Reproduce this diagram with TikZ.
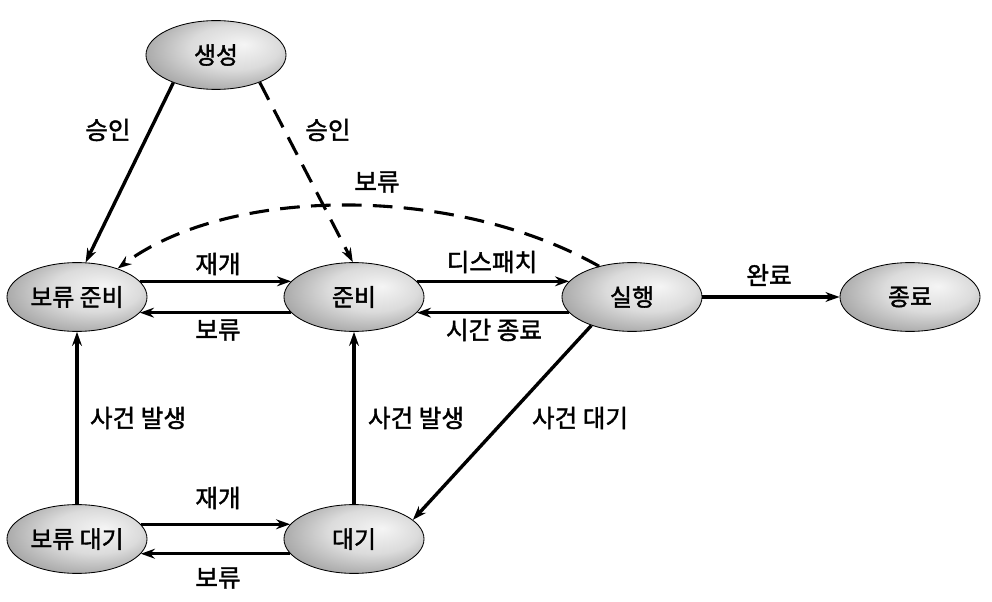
\documentclass[tikz,border=0pt]{standalone}
\usepackage{fontspec}
\setmainfont{Noto Sans CJK KR}[FakeBold=1.5]
\usetikzlibrary{shapes.geometric,arrows.meta}
\pgfdeclareradialshading{ellshade}{\pgfpoint{10bp}{8bp}}{color(0bp)=(black!4); color(16bp)=(black!14); color(34bp)=(black!40); color(50bp)=(black!50)}
\begin{document}
\begin{tikzpicture}[x=0.025cm,y=-0.025cm,
  st/.style={ellipse, draw=black, line width=0.6pt, shade, shading=ellshade,
    minimum width=3.5cm, minimum height=1.72cm, inner sep=0pt,
    font=\fontsize{17}{19}\selectfont},
  lab/.style={font=\fontsize{17.5}{19}\selectfont, inner sep=1pt},
  arr/.style={line width=2.4pt, -{Stealth[length=10pt,width=7pt]}},
  darr/.style={arr, line width=2.2pt, dash pattern=on 14pt off 8pt}]
\fill[white] (0,0) rectangle (992,602);
\useasboundingbox (0,0) rectangle (992,602);

\node[st] (gen) at (216,55) {생성};
\node[st] (hr) at (77,297) {보류 준비};
\node[st] (rd) at (354,297) {준비};
\node[st] (run) at (632,297) {실행};
\node[st] (end) at (910,297) {종료};
\node[st] (hw) at (77,539) {보류 대기};
\node[st] (wt) at (354,539) {대기};

\draw[arr] (gen.213) -- (hr.76);
\draw[darr] (gen.328) -- (rd.92);
\draw[darr] (run.137) .. controls (456,185) and (230,185) .. (hr.35);
\draw[arr] (hr.14) -- (rd.166);
\draw[arr] (rd.194) -- (hr.-14);
\draw[arr] (rd.14) -- (run.166);
\draw[arr] (run.194) -- (rd.-14);
\draw[arr] (run) -- (end);
\draw[arr] (run.215) -- (wt.18);
\draw[arr] (wt) -- (rd);
\draw[arr] (hw) -- (hr);
\draw[arr] (hw.13) -- (wt.167);
\draw[arr] (wt.193) -- (hw.-13);

\node[lab] (l1) at (108,130) {승인};
\node[lab] (l2) at (328,130) {승인};
\node[lab] (l3) at (377,182) {보류};
\node[lab] (l4) at (218,264) {재개};
\node[lab] (l5) at (218,330) {보류};
\node[lab] (l6) at (492,262) {디스패치};
\node[lab] (l7) at (494,330) {시간 종료};
\node[lab] (l8) at (769,275) {완료};
\node[lab] (l9) at (138,418) {사건 발생};
\node[lab] (l10) at (416,418) {사건 발생};
\node[lab] (l11) at (580,418) {사건 대기};
\node[lab] (l12) at (218,498) {재개};
\node[lab] (l13) at (218,578) {보류};
\end{tikzpicture}
\end{document}
